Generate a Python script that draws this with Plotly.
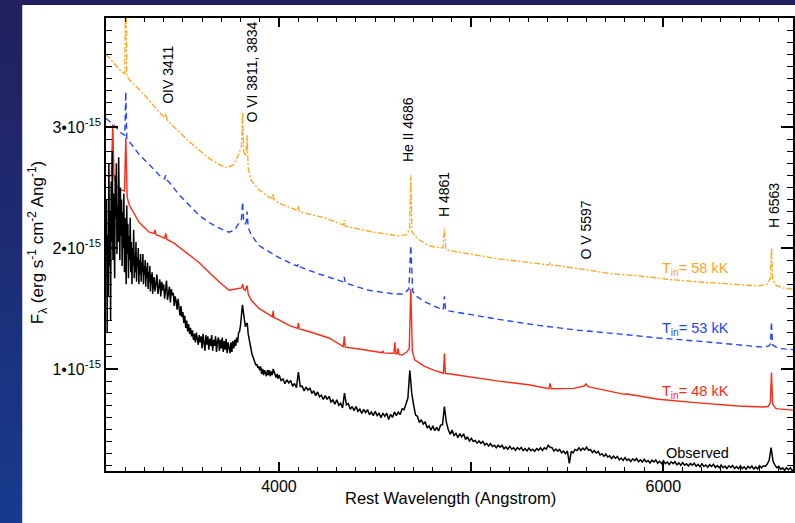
import plotly.graph_objects as go

# ---------------- data (flux in units of 1e-15 erg s^-1 cm^-2 A^-1) ----------------
# Observed spectrum, three wavelength segments (start, step) with fluxes
OBS_A_START, OBS_A_STEP = 3100, 3
OBS_A = [1.95, 2.40, 1.30, 2.10, 1.60, 2.70, 1.85, 2.30, 1.40, 2.55,
         2.05, 2.80, 1.90, 2.45, 2.15, 1.75, 2.60, 2.25, 2.70, 1.95,
         2.35, 2.05, 2.75, 2.20, 1.90, 2.50, 2.10, 2.40, 1.85, 2.30,
         2.00, 2.45, 1.80, 2.25, 2.05, 1.70, 2.35, 1.95, 2.20, 1.75,
         2.10, 1.90, 2.25, 1.80, 2.05, 1.70, 2.00, 1.85, 2.15, 1.75,
         1.95, 1.80, 2.05, 1.72, 1.92, 1.85, 2.00, 1.70, 1.90, 1.78,
         1.95, 1.72, 1.88, 1.80, 1.95, 1.70, 1.85, 1.78, 1.90, 1.68,
         1.84, 1.75, 1.88, 1.66, 1.80, 1.72, 1.85, 1.64, 1.78, 1.70,
         1.80, 1.62, 1.75, 1.66]
OBS_B_START, OBS_B_STEP = 3350, 5
OBS_B = [1.76, 1.64, 1.71, 1.78, 1.62, 1.69, 1.74, 1.60, 1.72, 1.65,
         1.70, 1.58, 1.67, 1.73, 1.57, 1.64, 1.68, 1.55, 1.66, 1.61,
         1.63, 1.52, 1.60, 1.56, 1.49, 1.58, 1.50, 1.44, 1.52, 1.43,
         1.47, 1.38, 1.44, 1.34, 1.40, 1.31, 1.37, 1.29, 1.34, 1.27,
         1.32, 1.24, 1.29, 1.22, 1.30, 1.25, 1.20, 1.28, 1.22, 1.27,
         1.17, 1.29, 1.21, 1.15, 1.28, 1.20, 1.27, 1.16, 1.25, 1.19,
         1.28, 1.15, 1.24, 1.19, 1.27, 1.14, 1.23, 1.26, 1.15, 1.24,
         1.17, 1.26, 1.14, 1.23, 1.16, 1.25, 1.13, 1.22, 1.18, 1.13,
         1.22, 1.14, 1.23, 1.17, 1.24, 1.19, 1.26, 1.22, 1.30, 1.31,
         1.36, 1.44, 1.53, 1.47, 1.39, 1.35, 1.37, 1.38, 1.29, 1.24,
         1.19, 1.15, 1.12, 1.10, 1.07, 1.06, 1.03, 1.04, 1.01, 1.02,
         0.99, 1.02, 0.96, 1.00, 0.95, 0.99, 0.97, 0.94, 0.99, 0.95,
         0.99, 0.94, 0.98, 0.95, 1.00, 0.97, 0.94, 0.93, 0.96, 0.92]
OBS_C_START, OBS_C_STEP = 4001, 10
OBS_C = [0.95, 0.905, 0.918, 0.878, 0.911, 0.884, 0.904, 0.857, 0.88, 0.845,
         0.975, 0.855, 0.858, 0.818, 0.851, 0.824, 0.844, 0.797, 0.82, 0.78,
         0.81, 0.77, 0.783, 0.748, 0.781, 0.749, 0.774, 0.727, 0.745, 0.71,
         0.745, 0.70, 0.718, 0.678, 0.80, 0.704, 0.714, 0.667, 0.69, 0.655,
         0.69, 0.65, 0.668, 0.633, 0.666, 0.639, 0.664, 0.622, 0.645, 0.615,
         0.65, 0.615, 0.633, 0.598, 0.636, 0.609, 0.634, 0.582, 0.625, 0.60,
         0.645, 0.615, 0.643, 0.623, 0.671, 0.664, 0.71, 0.76, 0.99, 0.80,
         0.70, 0.62, 0.608, 0.558, 0.581, 0.544, 0.564, 0.512, 0.53, 0.495,
         0.53, 0.49, 0.518, 0.488, 0.536, 0.539, 0.69, 0.56, 0.50, 0.46,
         0.495, 0.45, 0.468, 0.433, 0.466, 0.439, 0.464, 0.417, 0.44, 0.405,
         0.427, 0.401, 0.41, 0.387, 0.405, 0.386, 0.401, 0.372, 0.386, 0.363,
         0.384, 0.359, 0.37, 0.349, 0.37, 0.353, 0.369, 0.341, 0.356, 0.337,
         0.36, 0.337, 0.349, 0.329, 0.35, 0.335, 0.352, 0.326, 0.342, 0.323,
         0.346, 0.324, 0.337, 0.319, 0.342, 0.329, 0.349, 0.326, 0.348, 0.338,
         0.37, 0.353, 0.35, 0.322, 0.338, 0.321, 0.336, 0.307, 0.321, 0.30,
         0.322, 0.22, 0.32, 0.307, 0.335, 0.326, 0.349, 0.327, 0.346, 0.331,
         0.354, 0.328, 0.335, 0.309, 0.325, 0.306, 0.319, 0.289, 0.30, 0.278,
         0.297, 0.272, 0.282, 0.26, 0.279, 0.262, 0.277, 0.249, 0.264, 0.244,
         0.267, 0.244, 0.256, 0.236, 0.258, 0.243, 0.26, 0.234, 0.25, 0.231,
         0.253, 0.231, 0.244, 0.224, 0.246, 0.231, 0.248, 0.221, 0.237, 0.218,
         0.241, 0.218, 0.231, 0.211, 0.233, 0.218, 0.234, 0.208, 0.224, 0.204,
         0.227, 0.205, 0.217, 0.198, 0.22, 0.205, 0.222, 0.196, 0.212, 0.193,
         0.216, 0.194, 0.207, 0.188, 0.21, 0.195, 0.212, 0.186, 0.202, 0.183,
         0.206, 0.184, 0.197, 0.178, 0.20, 0.186, 0.203, 0.177, 0.194, 0.175,
         0.199, 0.177, 0.191, 0.172, 0.195, 0.18, 0.198, 0.173, 0.191, 0.174,
         0.20, 0.183, 0.20, 0.195, 0.215, 0.245, 0.35, 0.24, 0.205, 0.184,
         0.195, 0.171, 0.183, 0.163, 0.184, 0.168, 0.184, 0.158, 0.172]

# Model spectra
WL_58 = [3100, 3138, 3179, 3198, 3203, 3208, 3221, 3273, 3325, 3377, 3405, 3411, 3417, 3428,
         3480, 3532, 3584, 3636, 3688, 3730, 3766, 3787, 3805, 3811, 3816, 3825, 3830, 3834,
         3840, 3855, 3896, 3948, 3966, 3970, 3974, 4000, 4096, 4101, 4106, 4234, 4335, 4340,
         4345, 4494, 4623, 4665, 4680, 4686, 4692, 4706, 4727, 4779, 4831, 4853, 4861, 4868,
         4883, 4987, 5143, 5299, 5405, 5411, 5417, 5558, 5714, 5870, 6026, 6182, 6338, 6494,
         6540, 6557, 6563, 6569, 6587, 6623, 6675]
FLUX_58 = [3.60, 3.53, 3.46, 3.44, 4.60, 3.42, 3.39, 3.31, 3.22, 3.12, 3.08, 3.11, 3.06, 3.04,
           2.96, 2.88, 2.81, 2.74, 2.69, 2.66, 2.69, 2.76, 2.84, 3.12, 2.80, 2.76, 2.78, 2.93,
           2.66, 2.56, 2.48, 2.42, 2.41, 2.45, 2.40, 2.37, 2.31, 2.35, 2.30, 2.25, 2.19, 2.23,
           2.18, 2.13, 2.10, 2.11, 2.16, 2.60, 2.14, 2.10, 2.07, 2.02, 2.00, 2.00, 2.16, 1.99,
           1.98, 1.95, 1.91, 1.88, 1.86, 1.88, 1.86, 1.83, 1.79, 1.77, 1.74, 1.72, 1.70, 1.686,
           1.70, 1.75, 2.00, 1.74, 1.69, 1.67, 1.66]

WL_53 = [3100, 3138, 3179, 3198, 3203, 3208, 3221, 3273, 3325, 3377, 3405, 3411, 3417, 3428,
         3480, 3532, 3584, 3636, 3688, 3740, 3770, 3790, 3805, 3811, 3816, 3825, 3830, 3834,
         3840, 3855, 3896, 3948, 4000, 4052, 4096, 4101, 4106, 4208, 4335, 4340, 4345, 4468,
         4597, 4649, 4676, 4686, 4696, 4717, 4753, 4805, 4847, 4855, 4861, 4867, 4883, 4987,
         5143, 5351, 5558, 5766, 5974, 6182, 6390, 6520, 6550, 6558, 6563, 6568, 6598, 6675]
FLUX_53 = [3.07, 3.02, 2.95, 2.93, 3.29, 2.91, 2.88, 2.77, 2.69, 2.60, 2.57, 2.60, 2.56, 2.545,
           2.44, 2.355, 2.27, 2.21, 2.165, 2.13, 2.15, 2.20, 2.24, 2.38, 2.22, 2.20, 2.21, 2.30,
           2.17, 2.11, 2.02, 1.97, 1.92, 1.88, 1.85, 1.87, 1.845, 1.785, 1.72, 1.76, 1.71, 1.65,
           1.62, 1.62, 1.66, 2.02, 1.64, 1.60, 1.56, 1.52, 1.49, 1.49, 1.60, 1.485, 1.48, 1.45,
           1.41, 1.36, 1.32, 1.29, 1.256, 1.23, 1.20, 1.18, 1.19, 1.21, 1.39, 1.20, 1.17, 1.16]

WL_48 = [3100, 3117, 3128, 3135, 3142, 3158, 3179, 3196, 3203, 3210, 3221, 3273, 3325, 3350,
         3355, 3360, 3377, 3405, 3411, 3417, 3454, 3532, 3584, 3636, 3688, 3740, 3777, 3805,
         3811, 3816, 3825, 3834, 3840, 3855, 3896, 3948, 3966, 3970, 3974, 4000, 4052, 4096,
         4101, 4106, 4156, 4260, 4330, 4335, 4340, 4345, 4416, 4519, 4537, 4541, 4545, 4582,
         4598, 4603, 4608, 4615, 4620, 4625, 4640, 4665, 4678, 4686, 4694, 4706, 4753, 4805,
         4847, 4856, 4861, 4866, 4883, 4987, 5143, 5299, 5405, 5411, 5417, 5532, 5574, 5590,
         5597, 5604, 5620, 5662, 5797, 5805, 5974, 6182, 6390, 6520, 6545, 6557, 6563, 6569,
         6585, 6598, 6675]
FLUX_48 = [2.60, 2.59, 2.60, 3.02, 2.58, 2.50, 2.48, 2.47, 2.91, 2.42, 2.355, 2.21, 2.13, 2.12,
           2.15, 2.11, 2.10, 2.08, 2.12, 2.07, 2.04, 1.94, 1.88, 1.80, 1.72, 1.65, 1.66, 1.67,
           1.70, 1.66, 1.65, 1.69, 1.62, 1.57, 1.50, 1.45, 1.43, 1.48, 1.425, 1.405, 1.36, 1.335,
           1.38, 1.33, 1.31, 1.256, 1.19, 1.185, 1.27, 1.18, 1.165, 1.14, 1.135, 1.15, 1.133, 1.13,
           1.13, 1.22, 1.125, 1.125, 1.17, 1.12, 1.115, 1.14, 1.17, 1.66, 1.15, 1.075, 1.025, 0.99,
           0.967, 0.965, 1.13, 0.962, 0.96, 0.934, 0.90, 0.87, 0.838, 0.88, 0.836, 0.84, 0.855, 0.86,
           0.88, 0.86, 0.85, 0.835, 0.79, 0.795, 0.75, 0.72, 0.694, 0.686, 0.69, 0.72, 0.97, 0.71,
           0.675, 0.67, 0.66]

LINE_LABELS = ["OIV 3411", "O VI 3811, 3834", "He II 4686", "H 4861", "O V 5597", "H 6563"]
MODEL_LABELS = ["T<sub>in</sub>= 58 kK", "T<sub>in</sub>= 53 kK", "T<sub>in</sub>= 48 kK", "Observed"]
X_TICKS = [4000, 5000, 6000]
X_TICKTEXT = ["4000", "", "6000"]
Y_TICKS = [1, 2, 3]
Y_TICKTEXT = ["1\u202210<sup>-15</sup>", "2\u202210<sup>-15</sup>", "3\u202210<sup>-15</sup>"]

# ---------------- build observed wavelength grid ----------------
obs_wl, obs_fl = [], []
for start, step, vals in [(OBS_A_START, OBS_A_STEP, OBS_A),
                          (OBS_B_START, OBS_B_STEP, OBS_B),
                          (OBS_C_START, OBS_C_STEP, OBS_C)]:
    obs_wl += [start + step * i for i in range(len(vals))]
    obs_fl += vals

# ---------------- layout geometry (pixels) ----------------
W, H = 795, 523
L, R, T, B = 106, 795, 18, 471
XR = [3100, 6675]
YR = [0.157, 3.90]

def px_x(p):
    return (p - L) / (R - L)

def px_y(p):
    return (B - p) / (B - T)

FONT = "Liberation Sans, Arial, Helvetica, sans-serif"
ORANGE = "#FFA51E"
BLUE = "#2244FF"
RED = "#FF2A14"

fig = go.Figure()
fig.add_trace(go.Scatter(x=WL_58, y=FLUX_58, mode="lines",
                         line=dict(color=ORANGE, width=1.3, dash="6px,2px,2px,2px")))
fig.add_trace(go.Scatter(x=WL_53, y=FLUX_53, mode="lines",
                         line=dict(color=BLUE, width=1.4, dash="6px,4px")))
fig.add_trace(go.Scatter(x=WL_48, y=FLUX_48, mode="lines",
                         line=dict(color=RED, width=1.4)))
fig.add_trace(go.Scatter(x=obs_wl, y=obs_fl, mode="lines",
                         line=dict(color="black", width=1.5)))

# background gradient + white panel
shapes = []
n = 27
c0 = (34, 32, 94)
c1 = (24, 58, 142)
for i in range(n):
    t = i / (n - 1)
    col = "rgb(%d,%d,%d)" % tuple(round(c0[k] + (c1[k] - c0[k]) * t) for k in range(3))
    y0p = i * H / n
    y1p = (i + 1) * H / n + 1
    shapes.append(dict(type="rect", xref="paper", yref="paper", layer="below",
                       x0=px_x(-5), x1=px_x(W + 5), y0=px_y(y1p), y1=px_y(y0p),
                       fillcolor=col, line=dict(width=0)))
shapes.append(dict(type="rect", xref="paper", yref="paper", layer="below",
                   x0=px_x(22), x1=px_x(W + 5), y0=px_y(H + 5), y1=px_y(5),
                   fillcolor="white", line=dict(width=0)))

annotations = []
# line identifications (rotated)
line_pos = [(168, 75), (252, 72), (409, 130), (445, 195), (587, 230), (776, 206)]
for txt, (xp, yp) in zip(LINE_LABELS, line_pos):
    annotations.append(dict(text=txt, xref="paper", yref="paper", x=px_x(xp), y=px_y(yp),
                            textangle=-90, showarrow=False, xanchor="center", yanchor="middle",
                            font=dict(family=FONT, size=14, color="black")))
# model labels
lab_pos = [(733, 269, ORANGE), (733, 329, BLUE), (733, 392, RED), (733, 453, "black")]
for txt, (xp, yp, col) in zip(MODEL_LABELS, lab_pos):
    annotations.append(dict(text=txt, xref="paper", yref="paper", x=px_x(xp), y=px_y(yp),
                            showarrow=False, xanchor="right", yanchor="middle",
                            font=dict(family=FONT, size=14.5, color=col)))
# axis titles
annotations.append(dict(text="Rest Wavelength (Angstrom)", xref="paper", yref="paper",
                        x=px_x(452), y=px_y(498), showarrow=False, xanchor="center",
                        yanchor="middle", font=dict(family=FONT, size=16.5, color="black")))
annotations.append(dict(text="F<sub>\u03bb</sub> (erg s<sup>-1</sup> cm<sup>-2</sup> Ang<sup>-1</sup>)",
                        xref="paper", yref="paper", x=px_x(37), y=px_y(243), textangle=-90,
                        showarrow=False, xanchor="center", yanchor="middle",
                        font=dict(family=FONT, size=17, color="black")))

axis_common = dict(showline=True, linecolor="black", linewidth=1.8, mirror="allticks",
                   ticks="inside", tickcolor="black", tickwidth=1.5, showgrid=False,
                   zeroline=False, tickmode="array",
                   tickfont=dict(family=FONT, size=16, color="black"))

fig.update_layout(
    width=W, height=H,
    margin=dict(l=L, r=W - R, t=T, b=H - B, pad=0),
    paper_bgcolor="rgb(30,40,110)", plot_bgcolor="white",
    showlegend=False, font=dict(family=FONT, color="black"),
    shapes=shapes, annotations=annotations,
    xaxis=dict(range=XR, tickvals=X_TICKS, ticktext=X_TICKTEXT, ticklen=9,
               minor=dict(ticks="inside", ticklen=4, tickwidth=1.2, tickcolor="black",
                          tickmode="linear", tick0=0, dtick=100, showgrid=False),
               **axis_common),
    yaxis=dict(range=YR, tickvals=Y_TICKS, ticktext=Y_TICKTEXT, ticklen=12,
               minor=dict(ticks="inside", ticklen=6, tickwidth=1.2, tickcolor="black",
                          tickmode="linear", tick0=0, dtick=0.1, showgrid=False),
               **axis_common),
)

fig.write_html("out.html")
